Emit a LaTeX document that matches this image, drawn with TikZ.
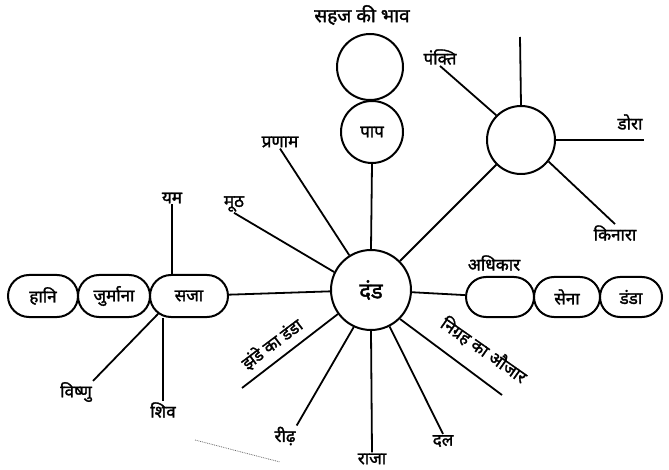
\documentclass[tikz,border=0pt]{standalone}
\usepackage{fontspec}
\newfontfamily\hindi[Script=Devanagari, AutoFakeBold=1.6]{Noto Sans}
\usetikzlibrary{shapes.misc}

\begin{document}
\begin{tikzpicture}[x=1pt, y=-1pt,
	ring/.style={circle, draw, line width=2pt, inner sep=0pt},
	pill/.style={rounded rectangle, draw, line width=2pt, minimum height=42pt, inner sep=2pt},
	word/.style={font=\hindi\bfseries\fontsize{17}{19}\selectfont, inner sep=1pt},
	spoke/.style={line width=1.8pt}]
			%%%%% START %%%%%
			
			\useasboundingbox (0,0) rectangle (669,470);
			
			\node[ring, minimum size=80pt, font=\hindi\bfseries\fontsize{22}{24}\selectfont] (dand) at (371,290) {दंड};
			
			\node[ring, minimum size=62pt, word] (paap) at (372,132) {पाप};
			\node[ring, minimum size=66pt] (bhav) at (370,67) {};
			\node[word, font=\hindi\bfseries\fontsize{19}{21}\selectfont] (sahaj) at (362,15) {सहज की भाव};
			\draw[spoke] (paap.south) -- (dand.north);
			
			\node[ring, minimum size=68pt] (rekha) at (521,140) {};
			\coordinate (rekhaTop) at (520,37);
			\node[word] (pankti) at (440,57) {पंक्ति};
			\node[word] (dora) at (630,122) {डोरा};
			\node[word] (kinara) at (615,233) {किनारा};
			\draw[spoke] (rekhaTop) -- (rekha.north);
			\draw[spoke] (pankti.south) -- (rekha.135);
			\draw[spoke] (rekha.east) -- (rekha.east -| dora.south east);
			\draw[spoke] (rekha.-38) -- (kinara.north);
			\draw[spoke] (rekha.225) -- (dand.45);
			
			\node[word] (pranam) at (280,142) {प्रणाम};
			\node[word] (mooth) at (234,204) {मूठ};
			\draw[spoke] (pranam.south) -- (dand.122);
			\draw[spoke] (mooth.south) -- (dand.154);
			
			\node[pill, minimum width=80pt, word] (saja) at (189,296) {सजा};
			\node[pill, minimum width=74pt, word] (jurmana) at (114,296) {जुर्माना};
			\node[pill, minimum width=72pt, word] (hani) at (43,296) {हानि};
			\node[word] (yam) at (172,198) {यम};
			\node[word] (vishnu) at (76,392) {विष्णु};
			\node[word] (shiv) at (163,410) {शिव};
			\draw[spoke] (saja) -- (dand);
			\draw[spoke] (yam.south) -- (yam.south |- saja.north);
			\draw[spoke] (shiv.north) -- (shiv.north |- saja.south);
			\draw[spoke] (vishnu.north east) -- (saja.210);
			
			\node[pill, minimum width=72pt, minimum height=40pt] (khali) at (500,297) {};
			\node[pill, minimum width=68pt, minimum height=40pt, word] (sena) at (567,297) {सेना};
			\node[pill, minimum width=64pt, minimum height=40pt, word] (danda) at (631,297) {डंडा};
			\node[word] (adhikar) at (494,263) {अधिकार};
			\draw[spoke] (dand) -- (khali);
			
			\coordinate (jhandaEnd) at (242,388);
			\draw[spoke] (dand.216) -- (jhandaEnd);
			\node[word, rotate=37] (jhanda) at (272,344) {झंडे का डंडा};
			
			\coordinate (nigrahEnd) at (502,395);
			\draw[spoke] (dand.315) -- (nigrahEnd);
			\node[word, rotate=-35] (nigrah) at (484,350) {निग्रह का औजार};
			
			\node[word] (reedh) at (285,436) {रीढ़};
			\node[word] (raja) at (372,459) {राजा};
			\node[word] (dal) at (443,441) {दल};
			\draw[spoke] (reedh.north east) -- (dand.245);
			\draw[spoke] (raja.north) -- (dand.south);
			\draw[spoke] (dal.north) -- (dand.297);
			
			\draw[densely dotted, black!60, line width=0.8pt] (195,440) -- (280,462);
			
			%%%%% END %%%%%
\end{tikzpicture}
\end{document}
